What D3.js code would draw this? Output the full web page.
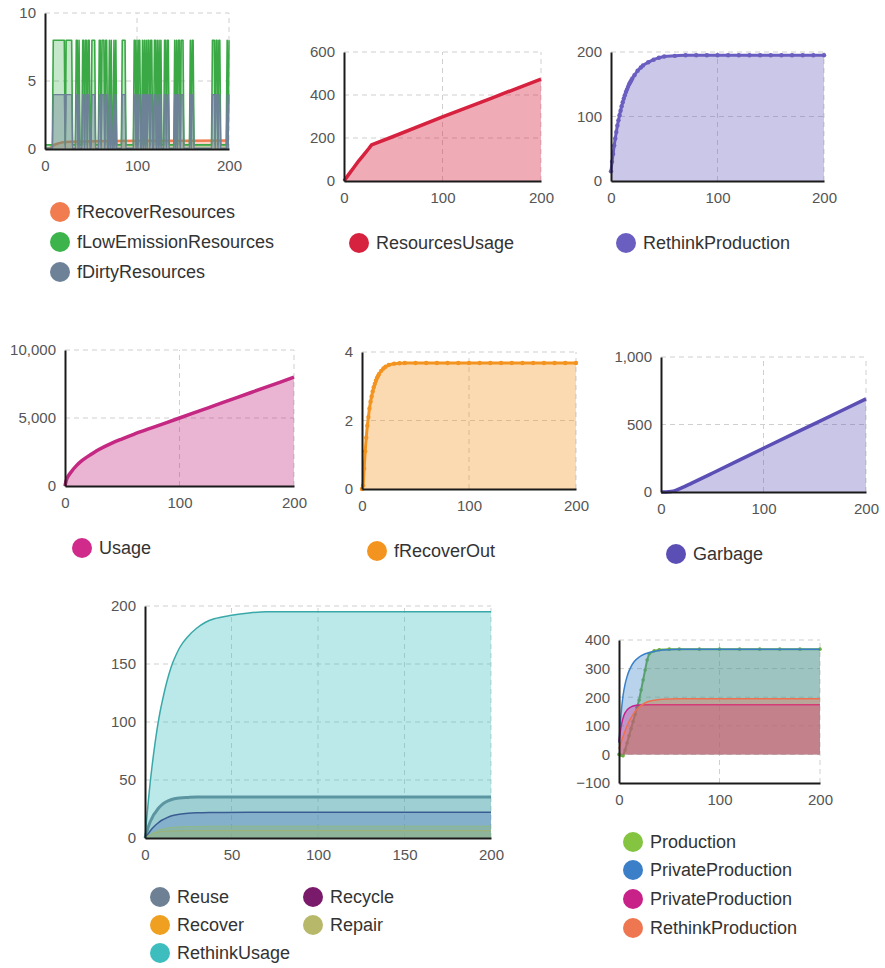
<!DOCTYPE html>
<html><head><meta charset="utf-8">
<script src="https://cdn.jsdelivr.net/npm/d3@7"></script>
<style>
body{margin:0;background:#fff}
svg{display:block}
text{font-family:"Liberation Sans",Arial,Helvetica,sans-serif}
</style>
</head><body>
<svg id="chart" width="885" height="968"></svg>
<script>
// ---------------- DATA ----------------
// Panel 1: switching resources (days on which the switch is on)
const resourceOnDays = [9,10,11,12,13,14,15,16,17,18,19,20,21,23,24,25,26,27,28,29,34,35,37,41,42,44,45,47,48,51,52,53,54,59,60,62,63,64,66,67,70,72,75,77,84,85,86,87,97,98,100,102,103,106,108,110,112,113,115,116,119,120,122,124,126,130,131,133,134,141,143,145,146,148,149,150,158,160,161,182,183,184,186,187,189,190,198,200];
const lowEmissionLevels = {on: 8, off: 0.3};
const dirtyLevels = {on: 4, off: 0.05};
const recoverResX = [0,5,10,15,20,40,100,200];
const recoverResY = [0,0.05,0.3,0.42,0.5,0.55,0.6,0.62];

// Panel 2
const resourcesUsageX = [0,5,10,15,20,25,28,50,100,150,200];
const resourcesUsageY = [0,32,63,94,122,150,168,207,298,386,474];

// Panel 3
const rethinkProdX = [0,1,2,3,4,5,6,7,8,9,10,11,12,13,14,15,16,17,18,19,20,22,25,28,30,35,40,45,50,60,70,80,90,100,110,120,130,140,150,160,170,180,190,200];
const rethinkProdY = [15,30,42,55,66,76,86,94,102,109,116,122,128,133,138,142,146,150,153,156,159,164,171,176,179,184,188,191,193,194,195,195,195,195,195,195,195,195,195,195,195,195,195,195];

// Panel 4
const usageX = [0,1,2,5,10,15,20,25,30,40,50,60,75,100,125,150,175,200];
const usageY = [0,380,600,1000,1500,1880,2180,2450,2700,3120,3470,3800,4250,5000,5750,6500,7250,8000];

// Panel 5
const recoverOutX = [0,1,2,3,4,5,6,7,8,9,10,11,12,13,14,15,16,18,20,22,25,30,35,40,50,60,70,80,90,100,110,120,130,140,150,160,170,180,190,200];
const recoverOutY = [0,0.1,0.6,1.1,1.5,1.85,2.1,2.35,2.55,2.7,2.85,2.97,3.07,3.16,3.24,3.3,3.36,3.45,3.52,3.57,3.62,3.66,3.67,3.68,3.68,3.68,3.68,3.68,3.68,3.68,3.68,3.68,3.68,3.68,3.68,3.68,3.68,3.68,3.68,3.68];

// Panel 6
const garbageX = [0,5,10,15,20,30,50,100,150,200];
const garbageY = [0,0,3,14,30,66,139,324,507,690];

// Panel 7
const rethinkUsageX = [0,1,2,3,4,5,6,7,8,9,10,12,14,16,18,20,25,30,35,40,50,60,70,80,100,120,140,160,180,200];
const rethinkUsageY = [0,17,33,48,61,73,84,94,103,111,118,131,142,151,158,164,174,181,186,189,192,194,195,195,195,195,195,195,195,195];
const reuseX = [0,1,2,3,4,5,6,8,10,12,15,20,25,30,40,200];
const reuseY = [0,5,10,14,17,20,22,26,29,31,33,34.5,35,35.3,35.3,35.3];
const recycleX = [0,2,4,6,8,10,12,15,20,25,30,40,60,200];
const recycleY = [0,4,8,11,13.5,15.5,17,19,20.5,21.3,21.7,22,22.3,22.3];
const recoverX = [0,2,4,6,8,10,15,20,30,40,200];
const recoverY = [0,2,3.5,4.5,5.2,5.6,6,6.2,6.3,6.3,6.3];
const repairX = [0,2,4,6,8,10,15,20,30,40,200];
const repairY = [0,2,4,5.5,6.8,7.8,9,9.6,10,10.2,10.2];

// Panel 8
const productionX = [0,2,4,6,8,10,12,14,16,18,20,22,24,26,28,30,35,40,50,60,80,100,120,140,160,180,200];
const productionY = [0,-3,-5,15,40,65,90,115,140,165,190,225,260,295,330,352,362,366,368,368,368,368,368,368,368,368,368];
const privProdAX = [0,1,2,4,6,8,10,12,15,20,25,30,40,50,60,80,100,150,200];
const privProdAY = [40,95,140,205,245,272,292,307,324,340,350,356,363,366,368,368,368,368,368];
const privProdBX = [0,2,4,6,8,10,12,15,20,30,40,200];
const privProdBY = [45,95,127,145,155,162,166,170,173,174,174,174];
const rethinkProd8X = [0,2,4,6,8,10,12,14,16,18,20,25,30,40,50,60,200];
const rethinkProd8Y = [20,42,62,82,100,115,128,140,150,158,165,178,186,192,194,195,195];

// tick labels
const xTicks200 = [0,100,200];
const xTicks50 = [0,50,100,150,200];

// ---------------- DRAW ----------------
const svg = d3.select('#chart');
const zip = (xs, ys) => xs.map((v,i)=>[v, ys[i]]);
const days = d3.range(0, 201);
const onSet = new Set(resourceOnDays);
const lowEmission = days.map(d => [d, onSet.has(d) ? lowEmissionLevels.on : lowEmissionLevels.off]);
const dirty = days.map(d => [d, onSet.has(d) ? dirtyLevels.on : dirtyLevels.off]);

function panel(o){
  const g = svg.append('g');
  const yMin = o.yTicks[0], yMax = o.yTicks[o.yTicks.length-1];
  const x = d3.scaleLinear().domain([0,200]).range([o.x0, o.x1]);
  const y = d3.scaleLinear().domain([yMin, yMax]).range([o.yB, o.yT]);
  const base = o.base !== undefined ? o.base : 0;
  // grid
  g.selectAll('line.gx').data(o.xTicks.filter(t=>t>0)).join('line').attr('class','gx')
    .attr('x1',d=>x(d)).attr('x2',d=>x(d)).attr('y1',o.yB).attr('y2',o.yT)
    .attr('stroke','#cfcfcf').attr('stroke-width',1).attr('stroke-dasharray','5,4');
  g.selectAll('line.gy').data(o.yTicks.filter(t=>t>yMin)).join('line').attr('class','gy')
    .attr('x1',o.x0).attr('x2',o.x1).attr('y1',d=>y(d)).attr('y2',d=>y(d))
    .attr('stroke','#cfcfcf').attr('stroke-width',1).attr('stroke-dasharray','5,4');
  // series
  o.series.forEach(s=>{
    const curve = s.curve || d3.curveLinear;
    const area = d3.area().x(d=>x(d[0])).y0(y(base)).y1(d=>y(d[1])).curve(curve);
    const line = d3.line().x(d=>x(d[0])).y(d=>y(d[1])).curve(curve);
    g.append('path').datum(s.data).attr('d',area)
      .attr('fill',s.color).attr('fill-opacity',s.fo!==undefined?s.fo:0.35).attr('stroke','none');
    g.append('path').datum(s.data).attr('d',line)
      .attr('fill','none').attr('stroke',s.stroke||s.color).attr('stroke-width',s.w||3)
      .attr('stroke-linejoin','round');
    if(s.dots){
      g.selectAll(null).data(s.data).join('circle')
        .attr('cx',d=>x(d[0])).attr('cy',d=>y(d[1])).attr('r',s.dots)
        .attr('fill',s.stroke||s.color);
    }
  });
  // axes
  const fmt = d3.format(',');
  const ya = g.append('g').attr('transform',`translate(${o.x0},0)`)
    .call(d3.axisLeft(y).tickValues(o.yTicks).tickSize(0).tickSizeOuter(0).tickPadding(9).tickFormat(fmt));
  const xa = g.append('g').attr('transform',`translate(0,${o.yB})`)
    .call(d3.axisBottom(x).tickValues(o.xTicks).tickSize(0).tickSizeOuter(0).tickPadding(11).tickFormat(fmt));
  [ya,xa].forEach(a=>{
    a.select('.domain').attr('stroke','#1a1a1a').attr('stroke-width',2);
    a.selectAll('text').attr('font-size',15).attr('fill','#555')
      .attr('font-family','"Liberation Sans",Arial,sans-serif');
  });
  // legend
  o.legend.forEach(l=>{
    const lg = g.append('g').attr('transform',`translate(${l.cx},${l.cy})`);
    lg.append('circle').attr('r',10).attr('fill',l.color);
    lg.append('text').attr('x',17).attr('dy','0.36em').attr('font-size',18).attr('fill','#333').text(l.name);
  });
}

// Panel 1
panel({x0:45,x1:229,yB:149,yT:13,yTicks:[0,5,10],xTicks:xTicks200,
  series:[
    {data:zip(recoverResX,recoverResY),color:'#f07c50',w:2.5,fo:0.35,curve:d3.curveMonotoneX},
    {data:lowEmission,color:'#3cb44b',stroke:'#3aa845',w:1.6,fo:0.3},
    {data:dirty,color:'#6d8197',stroke:'#6d8197',w:1.4,fo:0.4}
  ],
  legend:[
    {name:'fRecoverResources',color:'#f07c50',cx:60,cy:212},
    {name:'fLowEmissionResources',color:'#3cb44b',cx:60,cy:242},
    {name:'fDirtyResources',color:'#6d8197',cx:60,cy:272}
  ]});

// Panel 2
panel({x0:344,x1:541,yB:181,yT:52,yTicks:[0,200,400,600],xTicks:xTicks200,
  series:[{data:zip(resourcesUsageX,resourcesUsageY),color:'#d6213f',w:3.5,fo:0.38}],
  legend:[{name:'ResourcesUsage',color:'#d6213f',cx:359,cy:243}]});

// Panel 3
panel({x0:611,x1:824,yB:181,yT:52,yTicks:[0,100,200],xTicks:xTicks200,
  series:[{data:zip(rethinkProdX,rethinkProdY),color:'#6a5fc0',w:3,fo:0.35,dots:2.2,curve:d3.curveMonotoneX}],
  legend:[{name:'RethinkProduction',color:'#6a5fc0',cx:626,cy:243}]});

// Panel 4
panel({x0:65,x1:294,yB:486,yT:350,yTicks:[0,5000,10000],xTicks:xTicks200,
  series:[{data:zip(usageX,usageY),color:'#c42882',w:3.5,fo:0.35,curve:d3.curveMonotoneX}],
  legend:[{name:'Usage',color:'#d02a8a',cx:82,cy:548}]});

// Panel 5
panel({x0:362,x1:576,yB:489,yT:352,yTicks:[0,2,4],xTicks:xTicks200,
  series:[{data:zip(recoverOutX,recoverOutY),color:'#f39420',w:3,fo:0.35,dots:2.2,curve:d3.curveMonotoneX}],
  legend:[{name:'fRecoverOut',color:'#f39420',cx:377,cy:551}]});

// Panel 6
panel({x0:661,x1:866,yB:492,yT:357,yTicks:[0,500,1000],xTicks:xTicks200,
  series:[{data:zip(garbageX,garbageY),color:'#5b4fb5',w:3.5,fo:0.32,curve:d3.curveMonotoneX}],
  legend:[{name:'Garbage',color:'#5b4fb5',cx:676,cy:554}]});

// Panel 7
panel({x0:145,x1:491,yB:838,yT:606,yTicks:[0,50,100,150,200],xTicks:xTicks50,
  series:[
    {data:zip(reuseX,reuseY),color:'#6e8094',w:3,fo:0.3,curve:d3.curveMonotoneX},
    {data:zip(recycleX,recycleY),color:'#6050c0',stroke:'#3a2a7a',w:1.5,fo:0.35,curve:d3.curveMonotoneX},
    {data:zip(recoverX,recoverY),color:'#f0a020',w:1,fo:0.25,curve:d3.curveMonotoneX},
    {data:zip(repairX,repairY),color:'#b8b86a',w:1,fo:0.5,curve:d3.curveMonotoneX},
    {data:zip(rethinkUsageX,rethinkUsageY),color:'#3dbdbd',stroke:'#3aa8a8',w:1.5,fo:0.35,curve:d3.curveMonotoneX}
  ],
  legend:[
    {name:'Reuse',color:'#6e8094',cx:160,cy:897},
    {name:'Recover',color:'#f0a020',cx:160,cy:925},
    {name:'RethinkUsage',color:'#3dbdbd',cx:160,cy:953},
    {name:'Recycle',color:'#7a1a6a',cx:313,cy:897},
    {name:'Repair',color:'#b8b86a',cx:313,cy:925}
  ]});

// Panel 8
panel({x0:619,x1:820,yB:783,yT:640,yTicks:[-100,0,100,200,300,400],xTicks:xTicks200,base:0,
  series:[
    {data:zip(productionX,productionY),color:'#80c040',stroke:'#6ab040',w:2,fo:0.35,dots:1.8},
    {data:zip(privProdAX,privProdAY),color:'#3a80c8',w:1.5,fo:0.35,curve:d3.curveMonotoneX},
    {data:zip(privProdBX,privProdBY),color:'#c8208a',w:1.5,fo:0.35,curve:d3.curveMonotoneX},
    {data:zip(rethinkProd8X,rethinkProd8Y),color:'#ee7050',w:1.5,fo:0.35,curve:d3.curveMonotoneX}
  ],
  legend:[
    {name:'Production',color:'#84c441',cx:633,cy:842},
    {name:'PrivateProduction',color:'#3a7fc8',cx:633,cy:870},
    {name:'PrivateProduction',color:'#c82288',cx:633,cy:899},
    {name:'RethinkProduction',color:'#ee7752',cx:633,cy:928}
  ]});
</script>
</body></html>
